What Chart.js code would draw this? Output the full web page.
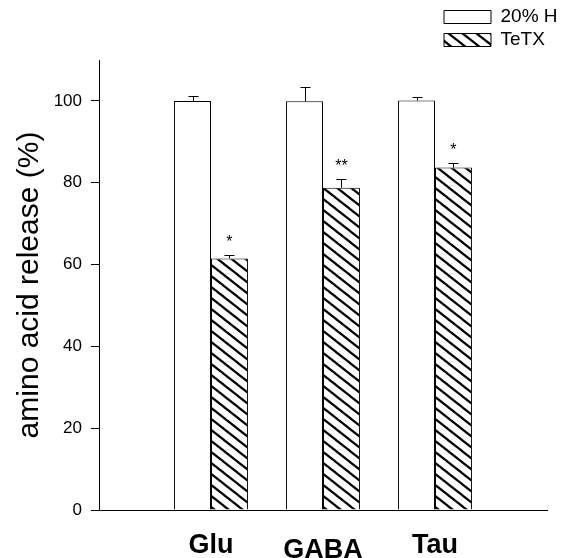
<!DOCTYPE html>
<html>
<head>
<meta charset="utf-8">
<script src="https://cdn.jsdelivr.net/npm/chart.js@4.4.0/dist/chart.umd.min.js"></script>
<style>
  html, body { margin: 0; padding: 0; background: #fff; }
  #wrap { width: 571px; height: 558px; position: relative; }
</style>
</head>
<body>
<div id="wrap"><canvas id="releaseChart"></canvas></div>
<script>
const categories = ['Glu', 'GABA', 'Tau'];
const controlValues = [100, 99.9, 100.1];
const controlErrors = [1.3, 3.4, 0.8];
const tetxValues = [61.5, 78.8, 83.7];
const tetxErrors = [0.9, 2.0, 1.1];
const significance = ['*', '**', '*'];
const yTicks = [0, 20, 40, 60, 80, 100];

const family = '"Liberation Sans", Arial, Helvetica, sans-serif';

// empty slots at both ends so the groups sit on the category boundaries
const pad = arr => [null, ...arr, null];

function makeHatch() {
    const w = 14, h = 11;
    const c = document.createElement('canvas');
    c.width = w;
    c.height = h;
    const g = c.getContext('2d');
    g.fillStyle = '#fff';
    g.fillRect(0, 0, w, h);
    g.strokeStyle = '#000';
    g.lineWidth = 2.2;
    for (let k = -1; k <= 1; k++) {
        g.beginPath();
        g.moveTo(k * w - w, -h);
        g.lineTo(k * w + 2 * w, 2 * h);
        g.stroke();
    }
    return g.createPattern(c, 'repeat');
}

const errorBars = {
    id: 'errorBars',
    afterDatasetsDraw(chart) {
        const ctx = chart.ctx;
        const y = chart.scales.y;
        ctx.save();
        ctx.strokeStyle = '#000';
        ctx.lineWidth = 1;
        ctx.fillStyle = '#000';
        ctx.font = '16px ' + family;
        ctx.textAlign = 'center';
        chart.data.datasets.forEach((ds, di) => {
            chart.getDatasetMeta(di).data.forEach((bar, i) => {
                const v = ds.data[i];
                if (v == null) return;
                const top = Math.round(y.getPixelForValue(v + ds.errors[i])) + 0.5;
                const x = Math.round(bar.x) + 0.5;
                ctx.beginPath();
                ctx.moveTo(x, bar.y);
                ctx.lineTo(x, top);
                ctx.moveTo(x - 5, top);
                ctx.lineTo(x + 5, top);
                ctx.stroke();
                if (ds.marks && ds.marks[i]) {
                    ctx.fillText(ds.marks[i], bar.x, top - 8.5);
                }
            });
        });
        ctx.restore();
    }
};

// put the legend in the top right corner, above the plot
const legendCorner = {
    id: 'legendCorner',
    afterLayout(chart) {
        const lg = chart.legend;
        lg.left = chart.width - 131;
        lg.right = chart.width;
        lg.top = 3.5;
        lg.bottom = 63;
    }
};

document.addEventListener('DOMContentLoaded', function () {
    const hatch = makeHatch();
    new Chart(document.getElementById('releaseChart').getContext('2d'), {
        type: 'bar',
        data: {
            labels: ['', ...categories, ''],
            datasets: [{
                label: '20% H',
                data: pad(controlValues),
                errors: pad(controlErrors),
                backgroundColor: '#fff',
                borderColor: '#000',
                borderWidth: 1,
                barPercentage: 1,
                categoryPercentage: 0.66
            }, {
                label: 'TeTX',
                data: pad(tetxValues),
                errors: pad(tetxErrors),
                marks: pad(significance),
                backgroundColor: hatch,
                borderColor: '#000',
                borderWidth: 1,
                barPercentage: 1,
                categoryPercentage: 0.66
            }]
        },
        options: {
            responsive: true,
            maintainAspectRatio: false,
            animation: false,
            events: [],
            layout: { padding: { top: 60, right: 24, left: 0, bottom: 0 } },
            plugins: {
                tooltip: { enabled: false },
                legend: {
                    position: 'chartArea',
                    align: 'start',
                    labels: {
                        boxWidth: 47,
                        boxHeight: 13,
                        padding: 4,
                        color: '#000',
                        font: { family: family, size: 19 }
                    }
                }
            },
            scales: {
                x: {
                    offset: false,
                    grid: { display: false },
                    border: { display: true, color: '#000', width: 1 },
                    ticks: {
                        color: '#000',
                        padding: 11,
                        maxRotation: 0,
                        autoSkip: false,
                        font: c => ({ family: family, size: 27, weight: 'bold', lineHeight: c.index === 2 ? 1.57 : 1.2 })
                    },
                    afterFit: s => { s.height = 48; }
                },
                y: {
                    min: 0,
                    max: 110,
                    afterBuildTicks: s => { s.ticks = yTicks.map(v => ({ value: v })); },
                    grid: { drawOnChartArea: false, drawTicks: true, tickLength: 8, color: '#000' },
                    border: { display: true, color: '#000', width: 1 },
                    ticks: { padding: 9, color: '#000', font: { family: family, size: 17 } },
                    title: {
                        display: true,
                        text: 'amino acid release (%)',
                        color: '#000',
                        font: { family: family, size: 30 },
                        padding: { top: 12, bottom: 0 }
                    },
                    afterFit: s => { s.width = 99; }
                }
            }
        },
        plugins: [errorBars, legendCorner]
    });
});
</script>
</body>
</html>
